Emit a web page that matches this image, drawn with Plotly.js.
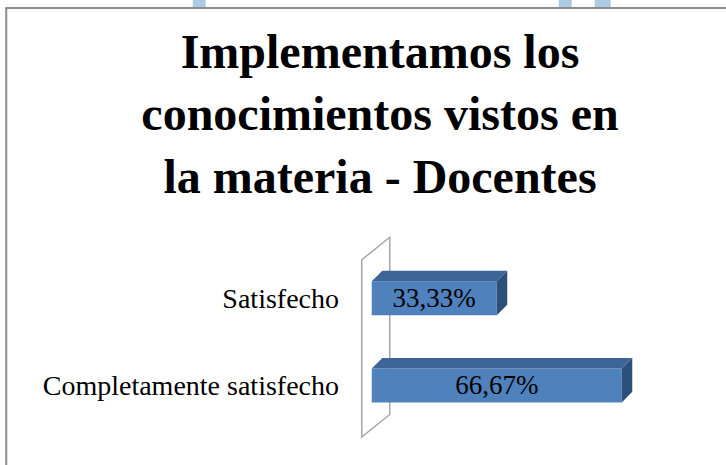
<!DOCTYPE html>
<html>
<head>
<meta charset="utf-8">
<script src="https://cdn.plot.ly/plotly-3.0.1.min.js"></script>
<style>
  html, body { margin: 0; padding: 0; background: #ffffff; }
  #chart { width: 726px; height: 465px; }
</style>
</head>
<body>
<div id="chart"></div>
<script>
// ---- data ----
var categories = ["Completamente satisfecho", "Satisfecho"];
var values = [66.67, 33.33];
var titleLines = ["Implementamos los", "conocimientos vistos en", "la materia - Docentes"];

// ---- layout geometry (pixels) ----
var W = 726, H = 465;
var mL = 353.25, mR = 72.75, mT = 233.25, mB = 23;
var xRange = [-5, 75], yRange = [-0.65, 1.75];
var plotW = W - mL - mR, plotH = H - mT - mB;
var pxPerX = plotW / (xRange[1] - xRange[0]);
var pxPerY = plotH / (yRange[1] - yRange[0]);

function paperX(px) { return (px - mL) / plotW; }
function paperY(py) { return (H - mB - py) / plotH; }

var barHalf = 0.195;               // half bar thickness (category units)
var depthPx = 10.5;                // 3-D depth of the bars
var dx = depthPx / pxPerX, dy = depthPx / pxPerY;

var frontColor = "#4F81BD", topColor = "#3D6598", sideColor = "#2F4F7B";

var shapes = [];

// chart border (box edge)
shapes.push({type: "line", xref: "paper", yref: "paper", layer: "below",
  x0: paperX(6.5), x1: paperX(6.5), y0: paperY(8.5), y1: paperY(470),
  line: {color: "#8a8a8a", width: 2}});
shapes.push({type: "line", xref: "paper", yref: "paper", layer: "below",
  x0: paperX(5.5), x1: paperX(730), y0: paperY(8.5), y1: paperY(8.5),
  line: {color: "#8a8a8a", width: 2}});

// faint page decoration above the box
[[193, 206], [559, 572], [595, 611]].forEach(function (r) {
  shapes.push({type: "rect", xref: "paper", yref: "paper", layer: "below",
    x0: paperX(r[0]), x1: paperX(r[1]), y0: paperY(7.5), y1: paperY(0),
    fillcolor: "#2f78c0", opacity: 0.4, line: {width: 0}});
});

// 3-D axis wall (parallelogram)
var wFrontX = -10 / pxPerX, wBackX = wFrontX + 28 / pxPerX;
var wBot = yRange[0] + 5 / pxPerY, wTop = wBot + 177 / pxPerY, wDy = 22.5 / pxPerY;
shapes.push({type: "path", xref: "x", yref: "y", layer: "below",
  path: "M" + wFrontX + "," + wBot + " L" + wFrontX + "," + wTop +
        " L" + wBackX + "," + (wTop + wDy) + " L" + wBackX + "," + (wBot + wDy) + " Z",
  fillcolor: "rgba(255,255,255,0)", line: {color: "#a6a6a6", width: 1.5}});

// top and side faces of each bar
values.forEach(function (v, i) {
  var y0 = i - barHalf, y1 = i + barHalf;
  shapes.push({type: "path", xref: "x", yref: "y", layer: "above",
    path: "M0," + y1 + " L" + v + "," + y1 + " L" + (v + dx) + "," + (y1 + dy) +
          " L" + dx + "," + (y1 + dy) + " Z",
    fillcolor: topColor, line: {width: 0}});
  shapes.push({type: "path", xref: "x", yref: "y", layer: "above",
    path: "M" + v + "," + y0 + " L" + v + "," + y1 + " L" + (v + dx) + "," + (y1 + dy) +
          " L" + (v + dx) + "," + (y0 + dy) + " Z",
    fillcolor: sideColor, line: {width: 0}});
});

var labels = values.map(function (v) { return v.toFixed(2).replace(".", ",") + "%"; });

var trace = {
  type: "bar",
  orientation: "h",
  x: values,
  y: [0, 1],
  width: barHalf * 2,
  marker: {color: frontColor, line: {width: 0}},
  text: labels,
  textposition: "inside",
  insidetextanchor: "middle",
  constraintext: "none",
  textfont: {family: "Liberation Serif", size: 27, color: "#000000"},
  hoverinfo: "skip"
};

var layout = {
  width: W, height: H,
  margin: {l: mL, r: mR, t: mT, b: mB, pad: 0},
  paper_bgcolor: "#ffffff",
  plot_bgcolor: "rgba(0,0,0,0)",
  showlegend: false,
  title: {
    text: titleLines.join("<br>"),
    font: {family: "Liberation Serif", size: 48, color: "#000000", weight: "bold"},
    xref: "container", yref: "container",
    x: 380 / W, xanchor: "center",
    y: 1 - 68 / H, yanchor: "middle"
  },
  xaxis: {range: xRange, showgrid: false, zeroline: false, showline: false,
          showticklabels: false, ticks: "", fixedrange: true},
  yaxis: {range: yRange, tickmode: "array", tickvals: [0, 1], ticktext: categories,
          showgrid: false, zeroline: false, showline: false, ticks: "",
          ticklabelstandoff: 13,
          tickfont: {family: "Liberation Serif", size: 28, color: "#000000"},
          fixedrange: true},
  shapes: shapes,
  hovermode: false
};

Plotly.newPlot("chart", [trace], layout, {displayModeBar: false, staticPlot: true});
</script>
</body>
</html>
